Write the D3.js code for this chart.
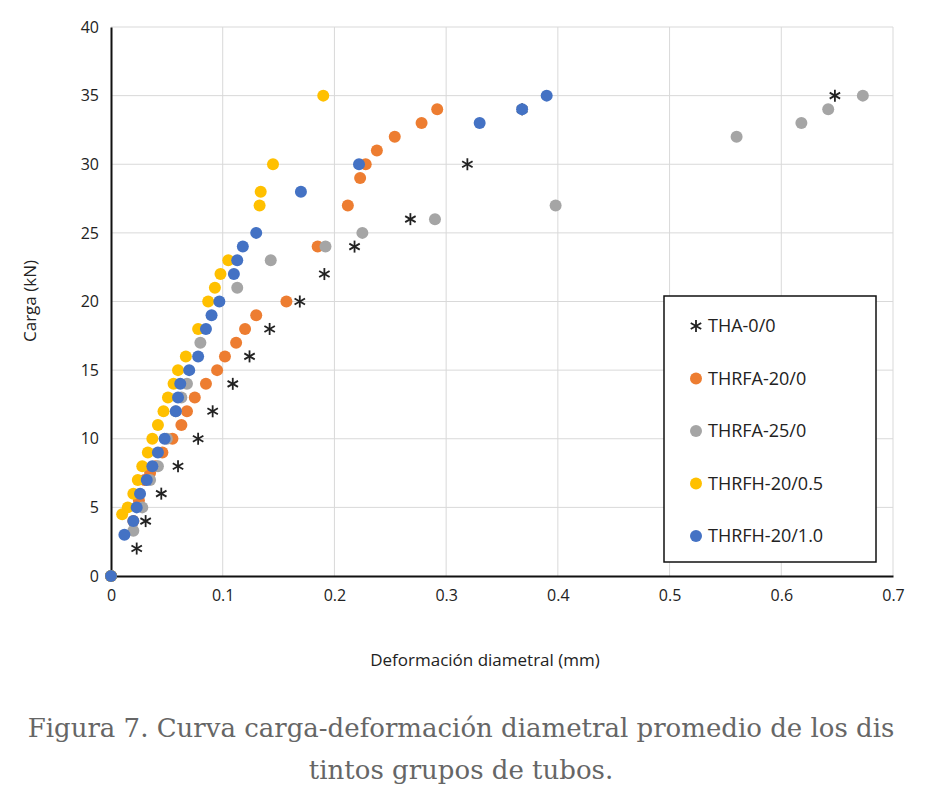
<!DOCTYPE html><html><head><meta charset="utf-8"><script src="https://d3js.org/d3.v7.min.js"></script>
<style>body{margin:0;background:#fff}</style></head><body><svg id="c" width="940" height="801"></svg><script>
const xTicks=[0,0.1,0.2,0.3,0.4,0.5,0.6,0.7];
const yTicks=[0,5,10,15,20,25,30,35,40];
const seriesNames=["THA-0/0","THRFA-20/0","THRFA-25/0","THRFH-20/0.5","THRFH-20/1.0"];
const colors=["#222","#ED7D31","#A5A5A5","#FFC000","#4472C4"];
const tha=[[0,0],[0.023,2],[0.031,4],[0.045,6],[0.06,8],[0.078,10],[0.091,12],[0.109,14],[0.124,16],[0.142,18],[0.169,20],[0.191,22],[0.218,24],[0.268,26],[0.319,30],[0.368,34],[0.648,35]];
const thrfa20=[[0,0],[0.02,4],[0.025,5.5],[0.03,7],[0.035,7.5],[0.04,8],[0.046,9],[0.055,10],[0.063,11],[0.068,12],[0.075,13],[0.085,14],[0.095,15],[0.102,16],[0.112,17],[0.12,18],[0.13,19],[0.157,20],[0.185,24],[0.212,27],[0.223,29],[0.228,30],[0.238,31],[0.254,32],[0.278,33],[0.292,34]];
const thrfa25=[[0,0],[0.02,3.3],[0.028,5],[0.035,7],[0.042,8],[0.05,10],[0.058,12],[0.063,13],[0.068,14],[0.08,17],[0.113,21],[0.143,23],[0.192,24],[0.225,25],[0.29,26],[0.398,27],[0.56,32],[0.618,33],[0.642,34],[0.673,35]];
const thrfh05=[[0,0],[0.01,4.5],[0.015,5],[0.02,6],[0.024,7],[0.028,8],[0.033,9],[0.037,10],[0.042,11],[0.047,12],[0.051,13],[0.056,14],[0.06,15],[0.067,16],[0.078,18],[0.087,20],[0.093,21],[0.098,22],[0.105,23],[0.133,27],[0.134,28],[0.145,30],[0.19,35]];
const thrfh10=[[0,0],[0.012,3],[0.02,4],[0.023,5],[0.026,6],[0.032,7],[0.037,8],[0.042,9],[0.048,10],[0.058,12],[0.06,13],[0.062,14],[0.07,15],[0.078,16],[0.085,18],[0.09,19],[0.097,20],[0.11,22],[0.113,23],[0.118,24],[0.13,25],[0.17,28],[0.222,30],[0.33,33],[0.368,34],[0.39,35]];
const data=[tha,thrfa20,thrfa25,thrfh05,thrfh10];
const svg=d3.select("#c");
const x=d3.scaleLinear().domain([0,0.7]).range([111,893]);
const y=d3.scaleLinear().domain([0,40]).range([576,27]);
const F="'Open Sans',sans-serif";
svg.append("g").selectAll("line.gx").data(xTicks.slice(1)).join("line").attr("x1",d=>x(d)).attr("x2",d=>x(d)).attr("y1",y(0)).attr("y2",y(40)).attr("stroke","#d9d9d9");
svg.append("g").selectAll("line.gy").data(yTicks.slice(1)).join("line").attr("x1",x(0)).attr("x2",x(0.7)).attr("y1",d=>y(d)).attr("y2",d=>y(d)).attr("stroke","#d9d9d9");
const xa=svg.append("g").attr("transform",`translate(0,${y(0)})`).call(d3.axisBottom(x).tickValues(xTicks).tickFormat(d=>d).tickSize(0).tickPadding(14));
const ya=svg.append("g").attr("transform",`translate(${x(0)},0)`).call(d3.axisLeft(y).tickValues(yTicks).tickSize(0).tickPadding(12));
[xa,ya].forEach(a=>{a.selectAll("text").attr("font-family",F).attr("font-size",16).attr("fill","#222");a.select(".domain").attr("stroke","#111").attr("stroke-width",2);});
svg.append("text").attr("x",485).attr("y",666).attr("text-anchor","middle").attr("font-family",F).attr("font-size",17).attr("fill","#222").text("Deformación diametral (mm)");
svg.append("text").attr("transform","translate(36,301) rotate(-90)").attr("text-anchor","middle").attr("font-family",F).attr("font-size",17).attr("fill","#222").text("Carga (kN)");
function star(g,cx,cy,c){const r=6;[[0,1],[0.87,0.5],[0.87,-0.5]].forEach(([a,b])=>g.append("line").attr("x1",cx-a*r).attr("y1",cy-b*r).attr("x2",cx+a*r).attr("y2",cy+b*r).attr("stroke",c).attr("stroke-width",1.8));}
data.forEach((s,i)=>{const g=svg.append("g");s.forEach(d=>{if(i===0)star(g,x(d[0]),y(d[1]),colors[0]);else g.append("circle").attr("cx",x(d[0])).attr("cy",y(d[1])).attr("r",6).attr("fill",colors[i]);});});
const lg=svg.append("g");
lg.append("rect").attr("x",664).attr("y",296).attr("width",212).attr("height",266).attr("fill","#fff").attr("stroke","#111").attr("stroke-width",1.5);
seriesNames.forEach((n,i)=>{const cy=326+i*52.5;if(i===0)star(lg,696,cy,colors[0]);else lg.append("circle").attr("cx",696).attr("cy",cy).attr("r",6).attr("fill",colors[i]);
lg.append("text").attr("x",708).attr("y",cy+6).attr("font-family",F).attr("font-size",18).attr("fill","#222").text(n);});
const cap=["Figura 7. Curva carga-deformación diametral promedio de los dis","tintos grupos de tubos."];
cap.forEach((t,i)=>svg.append("text").attr("x",461).attr("y",737+i*42).attr("text-anchor","middle").attr("font-family","'DejaVu Serif',serif").attr("font-size",26).attr("fill","#666").text(t));
</script></body></html>
